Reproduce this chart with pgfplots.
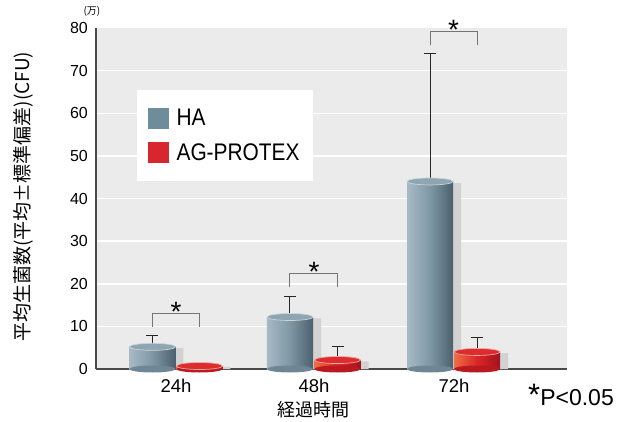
\documentclass[border=0pt]{standalone}
\usepackage{pgfplots}
\pgfplotsset{compat=1.18}
\usepackage{fontspec}
\setmainfont{Liberation Sans}
\newfontfamily\legfont[FakeStretch=0.87]{Liberation Sans}
\newfontfamily\jp{Noto Sans CJK JP}
\definecolor{bggray}{HTML}{EBEBEB}
\definecolor{axcol}{HTML}{4A4A4A}
\definecolor{haL}{HTML}{A6BAC5}
\definecolor{haM}{HTML}{7F97A4}
\definecolor{haR}{HTML}{4B606C}
\definecolor{hatop}{HTML}{8FA5B2}
\definecolor{hatope}{HTML}{C8D5DC}
\definecolor{habot}{HTML}{6F8795}
\definecolor{agL}{HTML}{EE6E40}
\definecolor{agM}{HTML}{D9252A}
\definecolor{agR}{HTML}{A3121A}
\definecolor{agtop}{HTML}{DC2C2E}
\definecolor{agtope}{HTML}{F3A6A0}
\definecolor{agbot}{HTML}{B81A20}
\definecolor{hasq}{HTML}{6F8C9B}
\definecolor{agsq}{HTML}{D8262E}
\definecolor{shadowc}{HTML}{D2D2D2}
\definecolor{brk}{HTML}{757575}
\pgfdeclareplotmark{cyl}{\pgfpathellipse{\pgfpointorigin}{\pgfqpoint{23pt}{0pt}}{\pgfqpoint{0pt}{3.5pt}}\pgfusepathqfillstroke}
\pgfdeclareplotmark{cylf}{\pgfpathellipse{\pgfpointorigin}{\pgfqpoint{23pt}{0pt}}{\pgfqpoint{0pt}{3.5pt}}\pgfusepathqfill}
\pgfplotsset{
  habar/.style={ybar, bar width=46pt, bar shift=0pt, draw=none, left color=haL, right color=haR, middle color=haM, forget plot},
  agbar/.style={ybar, bar width=46pt, bar shift=0pt, draw=none, left color=agL, right color=agR, middle color=agM, forget plot},
}
\begin{document}
\begin{tikzpicture}
\useasboundingbox (-96pt,-52pt) rectangle (523pt,369pt);
\begin{axis}[
  at={(0pt,0pt)}, anchor=south west,
  scale only axis, width=471pt, height=341pt,
  xmin=0, xmax=471, ymin=0, ymax=80,
  clip=false,
  axis background/.style={fill=bggray, draw=none},
  axis x line*=bottom, axis y line*=left,
  x axis line style={draw=axcol, line width=1.3pt},
  y axis line style={draw=axcol, line width=1.1pt},
  xtick={80,218,358}, xticklabels={24h,48h,72h},
  ytick={0,10,...,80},
  minor ytick={10,20,...,70},
  yminorgrids, minor grid style={white, line width=1.5pt},
  major tick length=0pt, minor tick length=0pt,
  /pgf/number format/assume math mode=true,
  xticklabel style={font=\fontsize{18.5}{18.5}\selectfont, anchor=center, yshift=-17pt},
  yticklabel style={font=\fontsize{16}{16}\selectfont, inner sep=0pt, anchor=east, xshift=-8pt},
  legend style={at={(rel axis cs:0.087,0.818)}, anchor=north west, draw=none, fill=white,
    font=\legfont\fontsize{24}{24}\selectfont, inner xsep=11pt, inner ysep=17pt, row sep=12pt,
    /tikz/every odd column/.append style={column sep=6pt}},
  legend cell align=left,
]
% shadows
\addplot[ybar, bar width=46pt, bar shift=0pt, fill=shadowc, draw=none, forget plot]
  coordinates {(64.5,4.9) (202,11.9) (342,43.6)};
\addplot[ybar, bar width=46pt, bar shift=0pt, fill=shadowc, draw=none, forget plot]
  coordinates {(111.5,0.5) (249.5,1.8) (389,3.7)};
% HA
\addplot[only marks, mark=cylf, mark options={fill=habot}, forget plot]
  coordinates {(56.5,0) (194,0) (334,0)};
\addplot[habar] coordinates {(56.5,5.2)};
\addplot[habar] coordinates {(194,12.2)};
\addplot[habar] coordinates {(334,44)};
% AG
\addplot[only marks, mark=cylf, mark options={fill=agbot}, forget plot]
  coordinates {(103.5,0) (241.5,0) (381,0)};
\addplot[agbar] coordinates {(103.5,0.7)};
\addplot[agbar] coordinates {(241.5,2.1)};
\addplot[agbar] coordinates {(381,4.0)};
% tops
\addplot[only marks, mark=cyl, mark options={fill=hatop, draw=hatope, line width=0.7pt}, forget plot]
  coordinates {(56.5,5.2) (194,12.2) (334,44)};
\addplot[only marks, mark=cyl, mark options={fill=agtop, draw=agtope, line width=0.7pt}, forget plot]
  coordinates {(103.5,0.7) (241.5,2.1) (381,4.0)};
% error bars
\addplot[draw=none, forget plot, error bars/.cd, y dir=plus, y explicit,
  error bar style={draw=black!85, solid, line width=1pt},
  error mark options={rotate=90, mark size=6pt, draw=black!85, line width=1pt}]
  coordinates {(56.5,5.2) +- (0,2.7) (194,12.2) +- (0,4.9) (334,44) +- (0,30.1)
               (103.5,0.7) +- (0,0.05) (241.5,2.1) +- (0,3.1) (381,4.0) +- (0,3.4)};
% legend
\addlegendimage{legend image code/.code={\fill[hasq] (0pt,-10pt) rectangle (20pt,10pt);}}
\addlegendentry{HA}
\addlegendimage{legend image code/.code={\fill[agsq] (0pt,-10pt) rectangle (20pt,10pt);}}
\addlegendentry{AG-PROTEX}
% significance brackets
\draw[brk, line width=1pt] (axis cs:56.5,9.9) -- (axis cs:56.5,13.1) -- (axis cs:103.5,13.1) -- (axis cs:103.5,9.9);
\draw[brk, line width=1pt] (axis cs:194,19.3) -- (axis cs:194,22.5) -- (axis cs:241.5,22.5) -- (axis cs:241.5,19.3);
\draw[brk, line width=1pt] (axis cs:334,76) -- (axis cs:334,79.1) -- (axis cs:381,79.1) -- (axis cs:381,76);
\node[anchor=base, inner sep=0pt, font=\fontsize{28}{28}\selectfont, yshift=-8pt] at (axis cs:80,13.1) {*};
\node[anchor=base, inner sep=0pt, font=\fontsize{28}{28}\selectfont, yshift=-8pt] at (axis cs:218,22.5) {*};
\node[anchor=base, inner sep=0pt, font=\fontsize{28}{28}\selectfont, yshift=-8pt] at (axis cs:357.5,79.1) {*};
% texts
\node[anchor=base west, inner sep=0pt, font=\fontsize{23}{23}\selectfont] at (axis cs:432,-8.45) {{\fontsize{31}{31}\selectfont*}P<0.05};
\node[inner sep=0pt, font=\jp\fontsize{18}{18}\selectfont] at (axis cs:218,-9.6) {経過時間};
\node[inner sep=0pt, rotate=90, font=\jp\fontsize{19}{19}\selectfont] at (axis cs:-73,40.4) {平均生菌数(平均±標準偏差)(CFU)};
\node[inner sep=0pt, font=\jp\fontsize{10}{10}\selectfont] at (axis cs:-4,83.8) {(万)};
\end{axis}
\end{tikzpicture}
\end{document}
